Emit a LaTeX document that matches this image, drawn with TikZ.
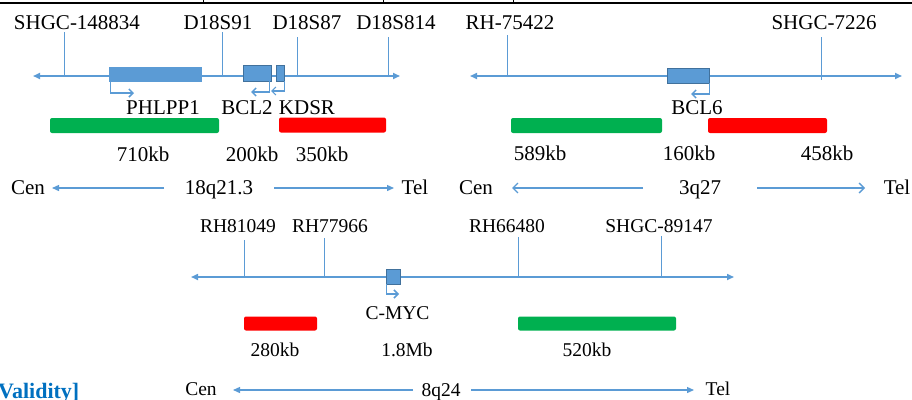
\documentclass[tikz,border=0pt]{standalone}
\usepackage{fontspec}
\setmainfont{Liberation Serif}
\usetikzlibrary{arrows.meta}
\definecolor{lblue}{HTML}{5B9BD5}
\definecolor{dblue}{HTML}{41719C}
\definecolor{gbar}{HTML}{00B050}
\definecolor{rbar}{HTML}{FF0000}
\definecolor{vblue}{HTML}{0070C0}
\begin{document}
\begin{tikzpicture}[x=1pt,y=-1pt,
 lbl/.style={inner sep=0pt, anchor=base, font=\fontsize{21}{25}\selectfont},
 lblc/.style={inner sep=0pt, anchor=base, font=\fontsize{19.5}{23}\selectfont},
 chrom/.style={draw=lblue, line width=1.6pt, {Triangle[length=7pt,width=6pt]}-{Triangle[length=7pt,width=6pt]}},
 tickln/.style={draw=lblue, line width=0.9pt},
 genebox/.style={draw=lblue, fill=lblue, line width=0.8pt, inner sep=0pt},
 genedark/.style={draw=dblue, fill=lblue, line width=0.9pt, inner sep=0pt},
 tss/.style={draw=lblue, line width=1.5pt, -{Straight Barb[length=4pt,width=8pt]}},
 barbox/.style={draw=none, rounded corners=2pt, inner sep=0pt, minimum height=15pt},
 dirf/.style={draw=lblue, line width=1.3pt, -{Triangle[length=7pt,width=6pt]}},
 diro/.style={draw=lblue, line width=1.3pt, -{Straight Barb[length=5pt,width=10pt]}},
]
\useasboundingbox (0,0) rectangle (912,399);
% table border at top
\coordinate (tl) at (0,3);
\coordinate (tr) at (912,3);
\draw[black, line width=1.3pt] (tl) -- (tr);
\foreach \xx/\nm in {203/ta,383/tb,513/tc}{
  \coordinate (\nm) at (\xx,0);
  \draw[black, line width=1pt] (\nm) -- (\nm |- tl);
}

%%%%%%%% Panel 1: 18q21.3
\node[lbl] (m11) at (77,29) {SHGC-148834};
\node[lbl] (m12) at (218,29) {D18S91};
\node[lbl] (m13) at (307,29) {D18S87};
\node[lbl] (m14) at (396,29) {D18S814};
\coordinate (c1l) at (33,76);
\coordinate (c1r) at (400,76);
\draw[chrom] (c1l) -- (c1r);
\coordinate (k11) at (64,32);
\coordinate (k12) at (222,32);
\coordinate (k13) at (297,37);
\coordinate (k14) at (388,37);
\foreach \k in {k11,k12,k13,k14}{ \draw[tickln] (\k) -- (\k |- c1l); }
\node[genebox, minimum width=92pt, minimum height=14pt] (phl) at (155,74) {};
\node[genedark, minimum width=28pt, minimum height=16pt] (bcl2) at (257,73) {};
\node[genedark, minimum width=8pt, minimum height=16pt] (kdsr) at (280,73) {};
\coordinate (phlt) at (134,93);
\coordinate (bcl2t) at (251,92);
\coordinate (kdsrt) at (271,91);
\draw[tss] ([xshift=2pt]phl.south west) |- (phlt);
\draw[tss] ([xshift=-2pt]bcl2.south east) |- (bcl2t);
\draw[tss, line width=1.2pt] (kdsr.south east) |- (kdsrt);
\node[lbl] (g11) at (163,114) {PHLPP1};
\node[lbl] (g12) at (247,114) {BCL2};
\node[lbl] (g13) at (307,114) {KDSR};
\node[barbox, fill=gbar, minimum width=169pt] (b11) at (134.5,125.5) {};
\node[barbox, fill=rbar, minimum width=107pt] (b12) at (332.5,125) {};
\node[lbl] (s11) at (143,161) {710kb};
\node[lbl] (s12) at (252,161) {200kb};
\node[lbl] (s13) at (322,161) {350kb};
\node[lbl] (cen1) at (28,194) {Cen};
\node[lbl] (loc1) at (219,194) {18q21.3};
\node[lbl] (tel1) at (415,194) {Tel};
\coordinate (a1s) at (164,188);
\coordinate (a1e) at (52,188);
\coordinate (a1s2) at (274,188);
\coordinate (a1e2) at (394,188);
\draw[dirf] (a1s) -- (a1e);
\draw[dirf] (a1s2) -- (a1e2);

%%%%%%%% Panel 2: 3q27
\node[lbl] (m21) at (510,29) {RH-75422};
\node[lbl] (m22) at (824,29) {SHGC-7226};
\coordinate (c2l) at (470,76);
\coordinate (c2r) at (902,76);
\draw[chrom] (c2l) -- (c2r);
\coordinate (k21) at (507,35);
\coordinate (k22) at (821,37);
\draw[tickln] (k21) -- (k21 |- c2l);
\draw[tickln] (k22) -- ([yshift=-4pt]k22 |- c2l);
\node[genedark, minimum width=42pt, minimum height=15pt] (bcl6) at (688,75.5) {};
\coordinate (bcl6t) at (691,94);
\draw[tss] (bcl6.south east) |- (bcl6t);
\node[lbl] (g21) at (697,114) {BCL6};
\node[barbox, fill=gbar, minimum width=151pt] (b21) at (586.5,125.5) {};
\node[barbox, fill=rbar, minimum width=119pt] (b22) at (767.5,125.5) {};
\node[lbl] (s21) at (540,160) {589kb};
\node[lbl] (s22) at (689,160) {160kb};
\node[lbl] (s23) at (827,160) {458kb};
\node[lbl] (cen2) at (476,194) {Cen};
\node[lbl] (loc2) at (700,194) {3q27};
\node[lbl] (tel2) at (897,194) {Tel};
\coordinate (a2s) at (643,188);
\coordinate (a2e) at (512,188);
\coordinate (a2s2) at (757,188);
\coordinate (a2e2) at (865,188);
\draw[diro] (a2s) -- (a2e);
\draw[diro] (a2s2) -- (a2e2);

%%%%%%%% Panel 3: 8q24
\node[lblc] (m31) at (238,232) {RH81049};
\node[lblc] (m32) at (330,232) {RH77966};
\node[lblc] (m33) at (507,232) {RH66480};
\node[lblc] (m34) at (659,232) {SHGC-89147};
\coordinate (c3l) at (191,277);
\coordinate (c3r) at (734,277);
\draw[chrom] (c3l) -- (c3r);
\coordinate (k31) at (244,240);
\coordinate (k32) at (324,238);
\coordinate (k33) at (518,237);
\coordinate (k34) at (661,236);
\foreach \k in {k31,k32,k33,k34}{ \draw[tickln] (\k) -- (\k |- c3l); }
\node[genedark, minimum width=14pt, minimum height=15pt] (myc) at (393,276.5) {};
\coordinate (myct) at (399,294);
\draw[tss] ([xshift=1pt]myc.south west) |- (myct);
\node[lblc] (g31) at (397.5,319) {C-MYC};
\node[barbox, fill=rbar, minimum width=73pt, minimum height=14pt] (b31) at (280.5,323.5) {};
\node[barbox, fill=gbar, minimum width=158pt, minimum height=14pt] (b32) at (597,323.5) {};
\node[lblc] (s31) at (275,356) {280kb};
\node[lblc] (s32) at (407,356) {1.8Mb};
\node[lblc] (s33) at (587,356) {520kb};
\node[lblc] (cen3) at (201,395) {Cen};
\node[lblc] (loc3) at (441,396) {8q24};
\node[lblc] (tel3) at (718,395) {Tel};
\coordinate (a3s) at (413,390);
\coordinate (a3e) at (233,390);
\coordinate (a3s2) at (471,390);
\coordinate (a3e2) at (694,390);
\draw[dirf] (a3s) -- (a3e);
\draw[dirf] (a3s2) -- (a3e2);

% caption text, cut off at the page edge as in the reference
\node[inner sep=0pt, anchor=base west, text=vblue, font=\fontsize{22}{26}\selectfont\bfseries] (valid) at (-2,398) {Validity]};
\end{tikzpicture}
\end{document}
